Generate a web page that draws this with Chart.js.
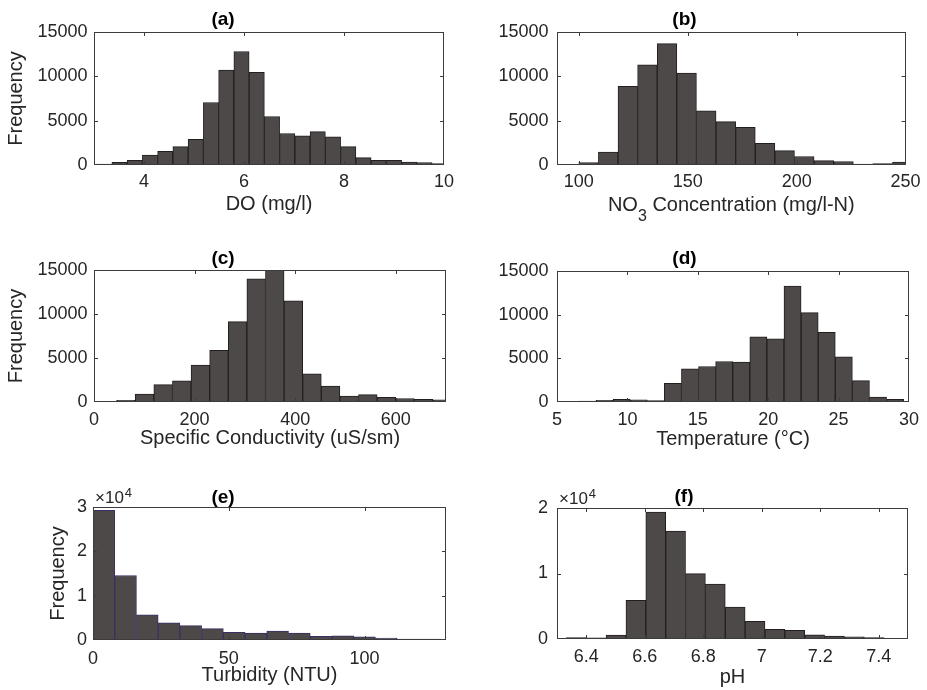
<!DOCTYPE html>
<html>
<head>
<meta charset="utf-8">
<script src="https://cdn.jsdelivr.net/npm/chart.js@4.4.1/dist/chart.umd.min.js"></script>
<style>
  body { margin: 0; background: #fff; }
  #wrap { position: relative; width: 927px; height: 690px; }
  #wrap canvas { position: absolute; }
</style>
</head>
<body>
<div id="wrap">
  <canvas id="histA" width="460" height="230" style="left:0;top:0"></canvas>
  <canvas id="histB" width="467" height="230" style="left:460px;top:0"></canvas>
  <canvas id="histC" width="460" height="230" style="left:0;top:230px"></canvas>
  <canvas id="histD" width="467" height="230" style="left:460px;top:230px"></canvas>
  <canvas id="histE" width="460" height="230" style="left:0;top:460px"></canvas>
  <canvas id="histF" width="467" height="230" style="left:460px;top:460px"></canvas>
</div>
<script>
// (a) DO
const doBins = [3.205, 3.51, 3.815, 4.12, 4.425, 4.73, 5.035, 5.34, 5.645, 5.95, 6.255, 6.56,
  6.865, 7.17, 7.475, 7.78, 8.085, 8.39, 8.695, 9.0, 9.305, 9.61, 9.915];
const doCounts = [100, 300, 530, 1130, 1550, 2070, 2900, 7050, 10700, 12800, 10450, 5470,
  3550, 3280, 3770, 3170, 2070, 830, 530, 530, 340, 260, 150];
const doTicks = [4, 6, 8, 10];

// (b) NO3
const no3Bins = [95.5, 104.5, 113.5, 122.5, 131.5, 140.5, 149.5, 158.5, 167.5, 176.5, 185.5,
  194.5, 203.5, 212.5, 221.5, 230.5, 239.5, 248.5];
const no3Counts = [40, 260, 1470, 8860, 11300, 13680, 10370, 6100, 4900, 4260, 2450,
  1620, 960, 500, 390, 90, 150, 320];
const no3Ticks = [100, 150, 200, 250];

// (c) conductividad
const condBins = [26.5, 63.5, 100.5, 137.5, 174.5, 211.5, 248.5, 285.5, 322.5, 359.5, 396.5,
  433.5, 470.5, 507.5, 544.5, 581.5, 618.5, 655.5, 692.5];
const condCounts = [75, 200, 890, 1970, 2400, 4200, 5870, 9130, 14000, 15000, 11500,
  3200, 1800, 680, 830, 530, 400, 300, 250];
const condTicks = [0, 200, 400, 600];

// (d) temperatura
const tempBins = [5.947, 7.161, 8.375, 9.589, 10.803, 12.017, 13.231, 14.445, 15.659, 16.873,
  18.087, 19.301, 20.515, 21.729, 22.943, 24.157, 25.371, 26.585, 27.799, 29.013];
const tempCounts = [40, 110, 200, 300, 250, 160, 2130, 3800, 4070, 4640,
  4570, 7460, 7230, 13280, 10240, 7990, 5180, 2440, 550, 310];
const tempTicks = [5, 10, 15, 20, 25, 30];

// (e) turbidez
const turbBins = [4, 12, 20, 28, 36, 44, 52, 60, 68, 76, 84, 92, 100, 108, 116, 124, 132];
const turbCounts = [29250, 14550, 5650, 3900, 3260, 2550, 1720, 1550, 2030, 1540, 820,
  940, 720, 450, 230, 180, 120];
const turbTicks = [0, 50, 100];

// (f) pH
const phBins = [6.366, 6.4339, 6.5018, 6.5697, 6.6376, 6.7055, 6.7734, 6.8413, 6.9092,
  6.9771, 7.045, 7.1129, 7.1808, 7.2487, 7.3166, 7.3845];
const phCounts = [220, 170, 580, 5920, 19390, 16460, 9970, 8400, 4860,
  2680, 1470, 1320, 640, 460, 330, 220];
const phTicks = [6.4, 6.6, 6.8, 7, 7.2, 7.4];

Chart.defaults.font.family = "'Liberation Sans', Arial, Helvetica, sans-serif";
Chart.defaults.color = "#262626";

const FONT = "'Liberation Sans', Arial, Helvetica, sans-serif";

// marco de ejes con marcas hacia dentro, exponente y etiqueta con subíndice
const framePlugin = {
  id: "frame",
  afterDatasetsDraw(chart, args, opts) {
    const { ctx, chartArea: a, scales: { x, y } } = chart;
    ctx.save();
    ctx.strokeStyle = "#3c3c3c";
    ctx.lineWidth = 1;
    ctx.beginPath();
    x.ticks.forEach((t) => {
      const px = Math.round(x.getPixelForValue(t.value)) + 0.5;
      if (px <= a.left + 2 || px >= a.right - 2) return;
      ctx.moveTo(px, a.bottom); ctx.lineTo(px, a.bottom - 4);
      ctx.moveTo(px, a.top); ctx.lineTo(px, a.top + 4);
    });
    y.ticks.forEach((t) => {
      const py = Math.round(y.getPixelForValue(t.value)) + 0.5;
      if (py <= a.top + 2 || py >= a.bottom - 2) return;
      ctx.moveTo(a.left, py); ctx.lineTo(a.left + 4, py);
      ctx.moveTo(a.right, py); ctx.lineTo(a.right - 4, py);
    });
    ctx.stroke();
    ctx.strokeRect(Math.round(a.left) + 0.5, Math.round(a.top) + 0.5,
      Math.round(a.width) - 1, Math.round(a.height) - 1);

    ctx.fillStyle = "#262626";
    if (opts.exponent) {
      ctx.textBaseline = "alphabetic";
      ctx.textAlign = "left";
      ctx.font = "17px " + FONT;
      ctx.fillText("\u00d710", a.left + 2, a.top - 4);
      const w = ctx.measureText("\u00d710").width;
      ctx.font = "13px " + FONT;
      ctx.fillText(opts.exponent, a.left + 2 + w + 1, a.top - 10);
    }
    if (opts.subLabel) {
      const s = opts.subLabel;
      ctx.font = "20px " + FONT;
      const w1 = ctx.measureText(s.main).width;
      const w3 = ctx.measureText(s.rest).width;
      ctx.font = "16px " + FONT;
      const w2 = ctx.measureText(s.sub).width;
      let x0 = (a.left + a.right) / 2 - (w1 + w2 + w3) / 2;
      const base = s.y + 7;
      ctx.textAlign = "left";
      ctx.textBaseline = "alphabetic";
      ctx.font = "20px " + FONT;
      ctx.fillText(s.main, x0, base);
      ctx.font = "16px " + FONT;
      ctx.fillText(s.sub, x0 + w1, base + 10);
      ctx.font = "20px " + FONT;
      ctx.fillText(s.rest, x0 + w1 + w2, base);
    }
    ctx.restore();
  },
};

function makeHist(id, box, plot, spec) {
  const titleLH = 19;
  const xTitleLH = 24;
  const xAxisH = spec.xTitleMid - plot.b + xTitleLH / 2;
  const titleTop = spec.titleMid - box.y - titleLH / 2;
  const points = spec.bins.map((b, i) => ({ x: b, y: spec.counts[i] }));

  return new Chart(document.getElementById(id), {
    type: "bar",
    data: {
      datasets: [
        {
          data: points,
          backgroundColor: "#4d4948",
          borderColor: spec.edge || "#231f1f",
          borderWidth: 1,
          borderSkipped: false,
          barPercentage: 1,
          categoryPercentage: 1,
          clip: 0,
        },
      ],
    },
    options: {
      responsive: false,
      animation: false,
      events: [],
      layout: {
        padding: {
          left: 0,
          top: 0,
          right: box.x + box.w - plot.r,
          bottom: box.y + box.h - plot.b - xAxisH,
        },
      },
      plugins: {
        legend: { display: false },
        tooltip: { enabled: false },
        title: {
          display: true,
          text: spec.title,
          color: "#000",
          font: { size: 19, weight: "bold", lineHeight: 1 },
          padding: { top: titleTop, bottom: plot.t - box.y - titleLH - titleTop },
        },
        frame: { exponent: spec.exponent, subLabel: spec.subLabel },
      },
      scales: {
        x: {
          type: "linear",
          min: spec.xMin,
          max: spec.xMax,
          offset: false,
          grid: { display: false, drawTicks: false },
          border: { display: false },
          afterBuildTicks: (s) => {
            s.ticks = spec.xTicks.map((v) => ({ value: v }));
          },
          afterFit: (s) => {
            s.height = xAxisH;
          },
          ticks: {
            autoSkip: false,
            maxRotation: 0,
            padding: spec.xTickPad,
            font: { size: 18 },
            callback: (v) => String(v),
          },
          title: {
            display: !spec.subLabel,
            text: spec.xTitle,
            font: { size: 20, lineHeight: 1.2 },
            padding: 0,
          },
        },
        y: {
          min: 0,
          max: spec.yMax,
          grid: { display: false, drawTicks: false },
          border: { display: false },
          afterFit: (s) => {
            s.width = plot.l - box.x;
          },
          ticks: {
            stepSize: spec.yStep,
            padding: spec.yTickPad,
            font: { size: 18 },
            callback: (v) => String(spec.exponent ? v / 10000 : v),
          },
          title: {
            display: !!spec.yTitleX,
            text: "Frequency",
            font: { size: 20, lineHeight: 1.2 },
            padding: { top: (spec.yTitleX || 0) - box.x - 12, bottom: 0 },
          },
        },
      },
    },
    plugins: [framePlugin],
  });
}

document.addEventListener("DOMContentLoaded", function () {
  makeHist("histA", { x: 0, y: 0, w: 460, h: 230 }, { l: 94, t: 32, r: 446, b: 165 }, {
    title: "(a)", titleMid: 19.5, bins: doBins, counts: doCounts, xTicks: doTicks,
    xMin: 3, xMax: 10, yMax: 15000, yStep: 5000, xTitle: "DO (mg/l)", xTitleMid: 204.5,
    xTickPad: 6, yTickPad: 6.5, yTitleX: 16.3,
  });
  makeHist("histB", { x: 460, y: 0, w: 467, h: 230 }, { l: 557, t: 32, r: 909, b: 165 }, {
    title: "(b)", titleMid: 19.5, bins: no3Bins, counts: no3Counts, xTicks: no3Ticks,
    xMin: 90, xMax: 250, yMax: 15000, yStep: 5000, xTitleMid: 204.2,
    subLabel: { main: "NO", sub: "3", rest: " Concentration (mg/l-N)", y: 204.2 },
    xTickPad: 6.4, yTickPad: 8.5,
  });
  makeHist("histC", { x: 0, y: 230, w: 460, h: 230 }, { l: 94, t: 270, r: 446, b: 402 }, {
    title: "(c)", titleMid: 258.5, bins: condBins, counts: condCounts, xTicks: condTicks,
    xMin: 0, xMax: 700, yMax: 15000, yStep: 5000, xTitle: "Specific Conductivity (uS/sm)",
    xTitleMid: 438, xTickPad: 6.9, yTickPad: 6.5, yTitleX: 16.3,
  });
  makeHist("histD", { x: 460, y: 230, w: 467, h: 230 }, { l: 557, t: 271, r: 909, b: 402 }, {
    title: "(d)", titleMid: 259, bins: tempBins, counts: tempCounts, xTicks: tempTicks,
    xMin: 5, xMax: 30, yMax: 15000, yStep: 5000, xTitle: "Temperature (\u00b0C)",
    xTitleMid: 439.2, xTickPad: 7.7, yTickPad: 8.5,
  });
  makeHist("histE", { x: 0, y: 460, w: 460, h: 230 }, { l: 93, t: 507, r: 446, b: 640 }, {
    title: "(e)", titleMid: 497.5, bins: turbBins, counts: turbCounts, xTicks: turbTicks,
    xMin: 0, xMax: 130, yMax: 30000, yStep: 10000, xTitle: "Turbidity (NTU)",
    xTitleMid: 675, xTickPad: 8, yTickPad: 6, yTitleX: 58, exponent: "4", edge: "#3b2e66",
  });
  makeHist("histF", { x: 460, y: 460, w: 467, h: 230 }, { l: 557, t: 508, r: 908, b: 639 }, {
    title: "(f)", titleMid: 496.5, bins: phBins, counts: phCounts, xTicks: phTicks,
    xMin: 6.3, xMax: 7.5, yMax: 20000, yStep: 10000, xTitle: "pH",
    xTitleMid: 677, xTickPad: 7, yTickPad: 9, exponent: "4",
  });
});
</script>
</body>
</html>
